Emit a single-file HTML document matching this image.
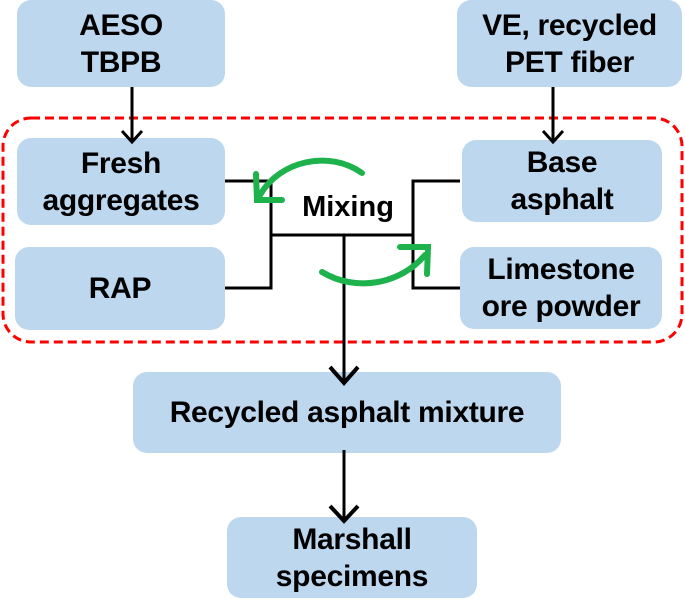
<!DOCTYPE html>
<html><head><meta charset="utf-8"><style>
body{margin:0;width:685px;height:600px;background:#fff;overflow:hidden;position:relative;font-family:"Liberation Sans",Arial,sans-serif;}
.b{position:absolute;background:#bdd7ee;border-radius:14px;display:flex;align-items:center;justify-content:center;text-align:center;font-weight:bold;font-size:30px;line-height:37px;color:#000;letter-spacing:-0.3px;}
svg{position:absolute;left:0;top:0;}
</style></head><body>
<div class="b" style="left:17px;top:0;width:208px;height:87px;">AESO<br>TBPB</div>
<div class="b" style="left:457px;top:0;width:225px;height:87px;">VE, recycled<br>PET fiber</div>
<div class="b" style="left:17px;top:138px;width:208px;height:87px;">Fresh<br>aggregates</div>
<div class="b" style="left:15px;top:247px;width:210px;height:83px;">RAP</div>
<div class="b" style="left:462px;top:140px;width:200px;height:82px;">Base<br>asphalt</div>
<div class="b" style="left:460px;top:247px;width:202px;height:82px;">Limestone<br>ore powder</div>
<div class="b" style="left:133px;top:372px;width:428px;height:81px;">Recycled asphalt mixture</div>
<div class="b" style="left:227px;top:517px;width:250px;height:81px;">Marshall<br>specimens</div>
<svg width="685" height="600">
<rect x="3" y="118" width="679" height="224" rx="28" fill="none" stroke="#f00" stroke-width="3" stroke-dasharray="9,5"/>
<g stroke="#000" stroke-width="3" fill="none">
<line x1="132" y1="87" x2="132" y2="142"/><polyline points="122,131 132,142 142,131"/>
<line x1="553" y1="87" x2="553" y2="142"/><polyline points="543,131 553,142 563,131"/>
<polyline points="225,181 271,181 271,288 225,288"/>
<polyline points="460,181 413,181 413,288 460,288"/>
<line x1="271" y1="235" x2="413" y2="235"/>
<line x1="344" y1="235" x2="344" y2="383"/><polyline points="330,367 344,383 358,367" stroke-width="4"/>
<line x1="344" y1="450" x2="344" y2="521"/><polyline points="330,506 344,521 358,506" stroke-width="4"/>
</g>
<text x="348" y="216" text-anchor="middle" font-family="Liberation Sans, Arial, sans-serif" font-weight="bold" font-size="29">Mixing</text>
<g stroke="#1db24b" stroke-width="6" fill="none" stroke-linecap="round">
<path d="M362,173 C330,150 280,160 260,195"/>
<polyline points="256,174 257,200 282,200"/>
<path d="M322,272 C355,292 400,285 425,255"/>
<polyline points="400,247 428,247 427,274"/>
</g>
</svg>
</body></html>
